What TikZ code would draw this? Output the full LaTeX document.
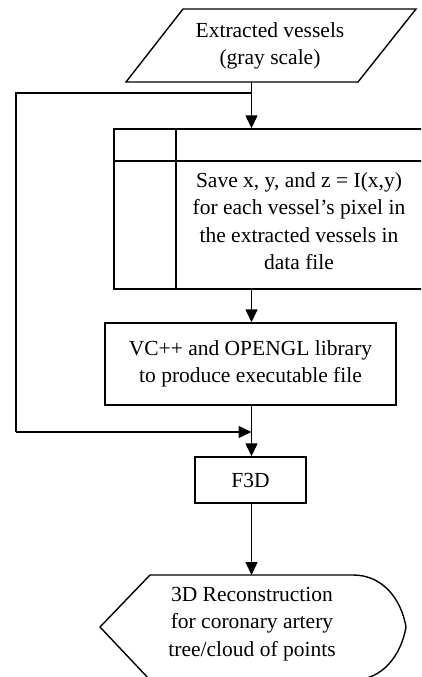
\documentclass[tikz,border=0pt]{standalone}
\usepackage{fontspec}
\setmainfont{Liberation Serif}
\usetikzlibrary{arrows.meta,calc}
\begin{document}
\begin{tikzpicture}[x=1pt,y=-1pt, line width=1.4pt,
  lbl/.style={font=\fontsize{21.5}{27.5}\selectfont, align=center, inner sep=0pt},
  box/.style={draw, line width=1.4pt, inner sep=0pt, font=\fontsize{21.5}{27.5}\selectfont, align=center},
  arr/.style={-{Triangle[length=13pt,width=12pt]}}]
\useasboundingbox (0,0) rectangle (421,677);
\clip (0,0) rectangle (421,677);
% input parallelogram
\draw (183,9) -- (416,9) -- (358,82) -- (126,82) -- cycle;
\node[lbl] (in) at (270,46) {Extracted vessels\\(gray scale)};
\coordinate (inb) at (251.5,82);
\coordinate (split) at (251.5,93);
\coordinate (left1) at (16,93);
\coordinate (left2) at (16,432);
% predefined process box (cut at right edge)
\node[box, minimum width=330pt, minimum height=160pt] (save) at (279,209) {};
\draw (save.west |- 0,161) -- (save.east |- 0,161);
\draw (176,0 |- save.north) -- (176,0 |- save.south);
\node[lbl] (savetxt) at (299,221) {Save x, y, and z = I(x,y)\\for each vessel’s pixel in\\the extracted vessels in\\data file};
% VC++ box
\node[box, minimum width=291pt, minimum height=82pt] (vc) at (250.5,364) {VC++ and OPENGL library\\to produce executable file};
\coordinate (merge) at (251.5,432);
% F3D box
\node[box, minimum width=111pt, minimum height=46pt] (f3d) at (250.5,480) {F3D};
% display shape
\draw (100,627) -- (150,575) -- (353,575)
  .. controls (382,575) and (401,598) .. (406,627)
  .. controls (401,656) and (382,680) .. (353,680) -- (150,680) -- cycle;
\coordinate (disp) at (251.5,575);
\node[lbl] (out) at (252,624) {3D Reconstruction\\for coronary artery\\tree/cloud of points};
% connectors
\draw[arr] (inb) -- (split) -- (split |- save.north);
\draw (split) -- (left1) -- (left2);
\draw[arr] (left2) -- (merge);
\draw[arr] (save.south -| split) -- (vc.north -| split);
\draw[arr] (vc.south -| split) -- (f3d.north -| split);
\draw[arr] (f3d.south -| split) -- (disp);
\end{tikzpicture}
\end{document}
